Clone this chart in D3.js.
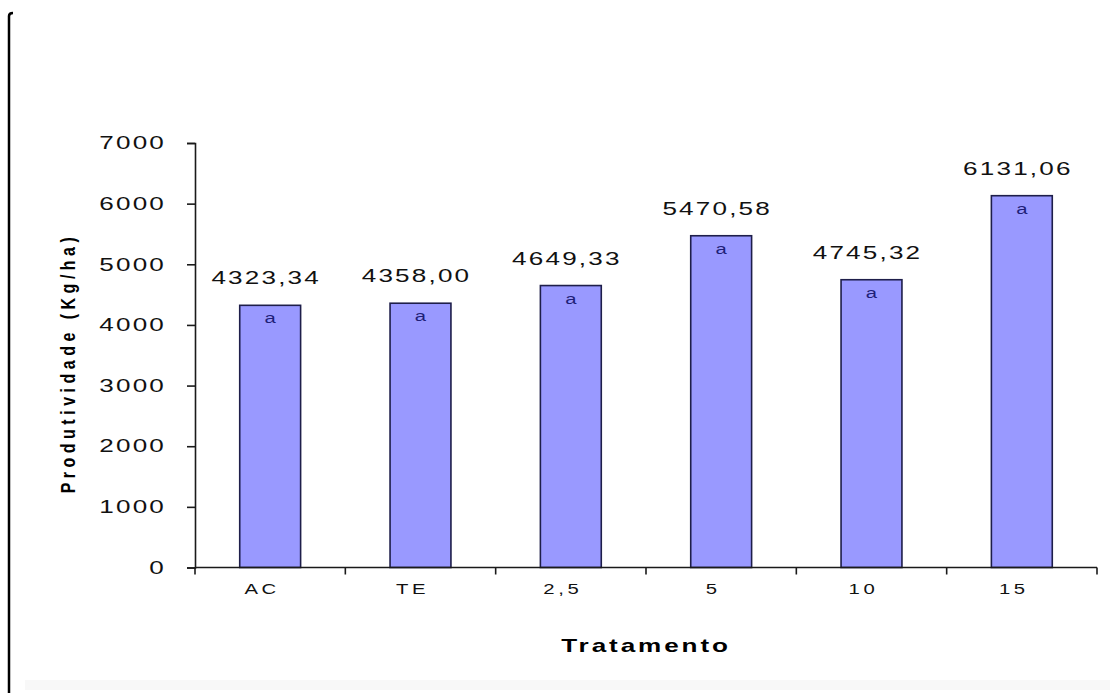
<!DOCTYPE html>
<html>
<head>
<meta charset="utf-8">
<script src="https://cdn.jsdelivr.net/npm/d3@7"></script>
<style>
  html, body { margin: 0; padding: 0; background: #ffffff; }
  svg { display: block; }
  text { font-family: "Liberation Sans", Arial, sans-serif; }
</style>
</head>
<body>
<svg id="chart" width="1118" height="693"></svg>
<script>
// Produtividade por tratamento
const categories = ["AC", "TE", "2,5", "5", "10", "15"];
const yields = [4323.34, 4358.00, 4649.33, 5470.58, 4745.32, 6131.06];
const groupLetters = ["a", "a", "a", "a", "a", "a"];
const yTicks = [0, 1000, 2000, 3000, 4000, 5000, 6000, 7000];
const yTitle = "Produtividade (Kg/ha)";
const xTitle = "Tratamento";

const plot = { left: 195, right: 1097, top: 143, bottom: 567.5 };
const SX = 1.45; // horizontal glyph stretch used throughout the chart text

const br = d3.formatLocale({ decimal: ",", thousands: ".", grouping: [3], currency: ["", ""] });
const fmt = br.format(".2f");

const svg = d3.select("#chart");

// page frame
svg.append("rect").attr("x", 25).attr("y", 680).attr("width", 1085).attr("height", 10)
  .attr("fill", "#f8f8f8");
svg.append("path")
  .attr("d", "M9,693 V16 Q9,13 13,13")
  .attr("fill", "none").attr("stroke", "#000").attr("stroke-width", 2.5);

const x = d3.scaleBand()
  .domain(categories)
  .range([plot.left, plot.right])
  .paddingInner(0.595)
  .paddingOuter(0.2975);

const y = d3.scaleLinear()
  .domain([0, 7000])
  .range([plot.bottom, plot.top]);

// y axis
const yAxis = svg.append("g")
  .attr("transform", `translate(${plot.left},0)`)
  .call(d3.axisLeft(y).tickValues(yTicks).tickSize(8).tickFormat(d3.format("d")));
yAxis.select(".domain").attr("stroke", "#1a1a1a").attr("stroke-width", 1.6);
yAxis.selectAll(".tick line").attr("stroke", "#1a1a1a").attr("stroke-width", 1.6);
yAxis.selectAll(".tick text")
  .attr("x", -29 / SX)
  .attr("transform", `scale(${SX},1)`)
  .attr("font-size", 18)
  .attr("letter-spacing", 1.5)
  .attr("fill", "#111");

// bars
svg.append("g").selectAll("rect")
  .data(categories)
  .join("rect")
  .attr("x", (d) => x(d))
  .attr("y", (d, i) => y(yields[i]))
  .attr("width", x.bandwidth())
  .attr("height", (d, i) => y(0) - y(yields[i]))
  .attr("fill", "#9999ff")
  .attr("stroke", "#1e1e4a")
  .attr("stroke-width", 1.6);

// x axis (category labels)
const xAxis = svg.append("g")
  .attr("transform", `translate(0,${plot.bottom})`)
  .call(d3.axisBottom(x).tickSize(0).tickPadding(17));
xAxis.select(".domain").remove();
xAxis.selectAll(".tick text")
  .attr("transform", `scale(${SX},1)`)
  .attr("x", -8 / SX)
  .attr("font-size", 14)
  .attr("letter-spacing", 2.5)
  .attr("fill", "#111");

// x baseline and tick marks between categories
const boundaries = d3.range(categories.length + 1).map((i) => plot.left + i * x.step());
svg.append("line")
  .attr("x1", plot.left).attr("x2", plot.right)
  .attr("y1", y(0)).attr("y2", y(0))
  .attr("stroke", "#1a1a1a").attr("stroke-width", 1.6);
svg.append("g").selectAll("line")
  .data(boundaries)
  .join("line")
  .attr("x1", (d) => d).attr("x2", (d) => d)
  .attr("y1", y(0)).attr("y2", y(0) + 7)
  .attr("stroke", "#1a1a1a").attr("stroke-width", 1.6);

// value labels above the bars
svg.append("g").selectAll("text")
  .data(categories)
  .join("text")
  .attr("transform", (d, i) => `translate(${x(d) + x.bandwidth() / 2 - 4},${y(yields[i]) - 21}) scale(${SX},1)`)
  .attr("text-anchor", "middle")
  .attr("font-size", 18)
  .attr("letter-spacing", 1.5)
  .attr("fill", "#111")
  .text((d, i) => fmt(yields[i]));

// significance letters inside the bars
svg.append("g").selectAll("text")
  .data(categories)
  .join("text")
  .attr("transform", (d, i) => `translate(${x(d) + x.bandwidth() / 2},${y(yields[i]) + 18}) scale(1.35,1)`)
  .attr("text-anchor", "middle")
  .attr("font-size", 15)
  .attr("fill", "#1f1f78")
  .text((d, i) => groupLetters[i]);

// axis titles
svg.append("text")
  .attr("transform", `translate(${(plot.left + plot.right) / 2},652) scale(${SX},1)`)
  .attr("text-anchor", "middle")
  .attr("font-size", 18)
  .attr("font-weight", "bold")
  .attr("letter-spacing", 2)
  .attr("fill", "#000")
  .text(xTitle);

svg.append("text")
  .attr("transform", `translate(75,363) rotate(-90) scale(1,1.3)`)
  .attr("text-anchor", "middle")
  .attr("font-size", 16)
  .attr("font-weight", "bold")
  .attr("letter-spacing", 4.5)
  .attr("fill", "#000")
  .text(yTitle);
</script>
</body>
</html>
